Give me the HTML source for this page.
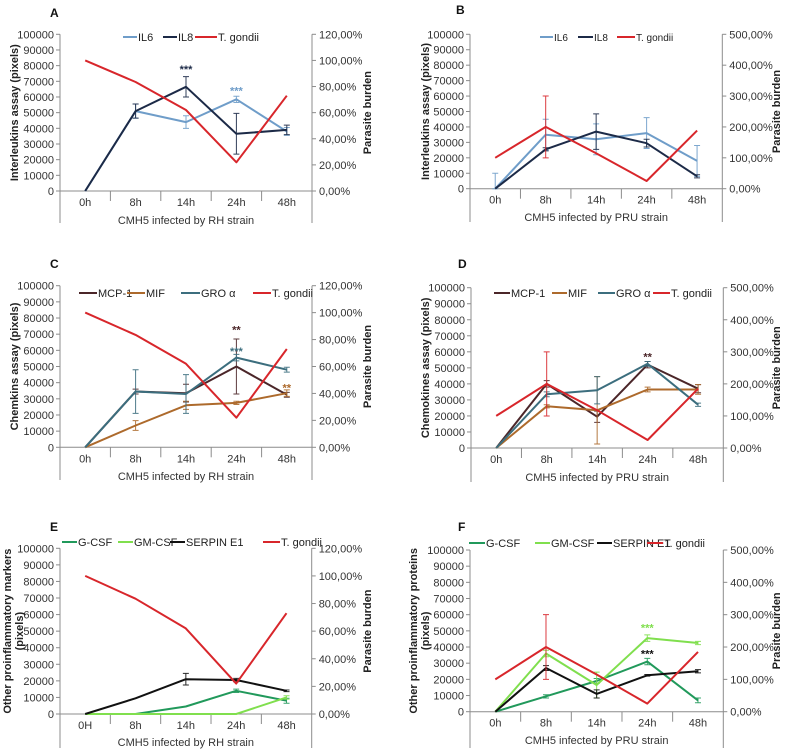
<!DOCTYPE html>
<html><head><meta charset="utf-8">
<style>
html,body{margin:0;padding:0;background:#fff;}
svg{display:block;font-family:"Liberation Sans",Arial,sans-serif;}
</style></head>
<body>
<svg id="fig" width="787" height="753" viewBox="0 0 787 753" xmlns="http://www.w3.org/2000/svg"></svg>
<script>
// ---- data ----
const cats = ["0h","8h","14h","24h","48h"];
const catsE = ["0H","8h","14h","24h","48h"];
// Panel A (RH)
const aIL6 = [0, 51000, 44000, 58500, 38000];
const aIL6Err = [0, 4500, 4000, 2000, 2500];
const aIL8 = [0, 51000, 66500, 36500, 39000];
const aIL8Err = [0, 4500, 6500, 13000, 3000];
const rhTg = [100, 83.5, 62, 22, 73];
// Panel B (PRU)
const bIL6 = [0, 35000, 32000, 36000, 18000];
const bIL6Err = [10000, 10000, 10000, 10000, 10000];
const bIL8 = [0, 25500, 37000, 29500, 8000];
const bIL8Err = [0, 1000, 11500, 2500, 1000];
const pruTg = [100, 200, 115, 25, 188];
const pruTgErr = [0, 100, 0, 0, 0];
// Panel C (RH)
const cMCP = [0, 34500, 33500, 50000, 32500];
const cMCPErr = [0, 1500, 5500, 17000, 1500];
const cMIF = [0, 13500, 26000, 27500, 33500];
const cMIFErr = [0, 3000, 2500, 1000, 2000];
const cGRO = [0, 34500, 33000, 55500, 48000];
const cGROErr = [0, 13500, 12000, 2000, 1500];
// Panel D (PRU)
const dMCP = [0, 40000, 19500, 52000, 37000];
const dMCPErr = [0, 2000, 3500, 2000, 2500];
const dMIF = [0, 26000, 23500, 36500, 36500];
const dMIFErr = [0, 1000, 21000, 1500, 3000];
const dGRO = [0, 33500, 36000, 52500, 27000];
const dGROErr = [0, 1500, 8500, 1500, 1000];
const dTg = [100, 200, 118, 25, 185];
// Panel E (RH)
const eGCSF = [0, 0, 4500, 14000, 8000];
const eGCSFErr = [0, 0, 0, 1000, 1500];
const eGMCSF = [0, 0, 0, 0, 10000];
const eGMCSFErr = [0, 0, 0, 0, 1000];
const eSERP = [0, 9500, 21000, 20500, 14000];
const eSERPErr = [0, 0, 3500, 1000, 500];
// Panel F (PRU)
const fGCSF = [0, 9500, 19000, 31000, 7000];
const fGCSFErr = [0, 1000, 1500, 2000, 1500];
const fGMCSF = [0, 36000, 16500, 45500, 42500];
const fGMCSFErr = [0, 2000, 8000, 2000, 1000];
const fSERP = [0, 27000, 11000, 22500, 25000];
const fSERPErr = [0, 1500, 2500, 500, 1000];
const fTg = [100, 200, 115, 25, 185];
const leftTicks = [0,10000,20000,30000,40000,50000,60000,70000,80000,90000,100000];
const rhPctTicks = [0,20,40,60,80,100,120];
const pruPctTicks = [0,100,200,300,400,500];

const C = {il6:"#6f9dc9", il8:"#1c2a47", red:"#d8262b", mcp:"#4b2629", mif:"#ad6a2c", gro:"#3c6e7e", gcsf:"#21995b", gmcsf:"#80df4e", serp:"#111111"};
const NS = "http://www.w3.org/2000/svg";
const fig = document.getElementById("fig");
function el(tag, attrs, parent, text){
  const e = document.createElementNS(NS, tag);
  for (const k in attrs) e.setAttribute(k, attrs[k]);
  if (text !== undefined) e.textContent = text;
  (parent || fig).appendChild(e);
  return e;
}
function pctFmt(v){ return v.toFixed(2).replace(".", ",") + "%"; }

const panels = [
 {id:"a", letter:"A", lx:50, ly:17, x0:60, x1:312, yTop:34.3, y0:191, yBot:223, pmax:120, pticks:rhPctTicks, cats:cats,
  ytitle:[14], yt:["Interleukins assay (pixels)"], rtitle:"Parasite burden", rtx:367, xtitle:"CMH5 infected by  RH strain", xty:224, legY:37, legFont:11,
  series:[{name:"IL6",color:C.il6,v:aIL6,e:aIL6Err,lx:123,lw:14},{name:"IL8",color:C.il8,v:aIL8,e:aIL8Err,lx:163,lw:14},{name:"T. gondii",color:C.red,v:rhTg,pct:true,lx:195,lw:22}],
  stars:[{i:2,v:78000,t:"***",c:C.il8},{i:3,v:64000,t:"***",c:C.il6}]},
 {id:"b", letter:"B", lx:456, ly:14, x0:470, x1:722.3, yTop:34.3, y0:188.7, yBot:222, pmax:500, pticks:pruPctTicks, cats:cats,
  ytitle:[425], yt:["Interleukins assay (pixels)"], rtitle:"Parasite burden", rtx:776, xtitle:"CMH5 infected by PRU strain", xty:221, legY:37, legFont:10,
  series:[{name:"IL6",color:C.il6,v:bIL6,e:bIL6Err,lx:540,lw:13},{name:"IL8",color:C.il8,v:bIL8,e:bIL8Err,lx:578,lw:15},{name:"T. gondii",color:C.red,v:pruTg,e:pruTgErr,pct:true,lx:617,lw:18}],
  stars:[]},
 {id:"c", letter:"C", lx:50, ly:268, x0:60, x1:312, yTop:285.7, y0:447.3, yBot:480, pmax:120, pticks:rhPctTicks, cats:cats,
  ytitle:[14], yt:["Chemkins assay (pixels)"], rtitle:"Parasite burden", rtx:367, xtitle:"CMH5 infected by  RH strain", xty:480, legY:293, legFont:11,
  series:[{name:"MCP-1",color:C.mcp,v:cMCP,e:cMCPErr,lx:79,lw:18},{name:"MIF",color:C.mif,v:cMIF,e:cMIFErr,lx:127,lw:18},{name:"GRO α",color:C.gro,v:cGRO,e:cGROErr,lx:181,lw:19},{name:"T. gondii",color:C.red,v:rhTg,pct:true,lx:253,lw:18}],
  stars:[{i:3,v:73000,t:"**",c:C.mcp},{i:3,v:59500,t:"***",c:C.gro},{i:4,v:37000,t:"**",c:C.mif}]},
 {id:"d", letter:"D", lx:458, ly:268, x0:471, x1:723.3, yTop:287.7, y0:448, yBot:482, pmax:500, pticks:pruPctTicks, cats:cats,
  ytitle:[425], yt:["Chemokines assay (pixels)"], rtitle:"Parasite burden", rtx:776, xtitle:"CMH5 infected by PRU strain", xty:481, legY:293, legFont:11,
  series:[{name:"MCP-1",color:C.mcp,v:dMCP,e:dMCPErr,lx:494,lw:16},{name:"MIF",color:C.mif,v:dMIF,e:dMIFErr,lx:552,lw:15},{name:"GRO α",color:C.gro,v:dGRO,e:dGROErr,lx:598,lw:17},{name:"T. gondii",color:C.red,v:dTg,e:pruTgErr,pct:true,lx:653,lw:17}],
  stars:[{i:3,v:57000,t:"**",c:C.mcp}]},
 {id:"e", letter:"E", lx:50, ly:531, x0:60, x1:311.7, yTop:548.3, y0:714, yBot:748, pmax:120, pticks:rhPctTicks, cats:catsE,
  ytitle:[7,19], yt:["Other proinflammatory markers","(pixels)"], rtitle:"Parasite burden", rtx:367, xtitle:"CMH5 infected by  RH strain", xty:746, legY:542, legFont:11,
  series:[{name:"G-CSF",color:C.gcsf,v:eGCSF,e:eGCSFErr,lx:62,lw:15},{name:"GM-CSF",color:C.gmcsf,v:eGMCSF,e:eGMCSFErr,lx:118,lw:15},{name:"SERPIN E1",color:C.serp,v:eSERP,e:eSERPErr,lx:170,lw:15},{name:"T. gondii",color:C.red,v:rhTg,pct:true,lx:263,lw:17}],
  stars:[]},
 {id:"f", letter:"F", lx:458, ly:531, x0:470, x1:723.3, yTop:550, y0:711.7, yBot:748, pmax:500, pticks:pruPctTicks, cats:cats,
  ytitle:[413,425], yt:["Other proinflammatory proteins","(pixels)"], rtitle:"Prasite burden", rtx:776, xtitle:"CMH5 infected by PRU strain", xty:744, legY:543, legFont:11,
  series:[{name:"G-CSF",color:C.gcsf,v:fGCSF,e:fGCSFErr,lx:469,lw:16},{name:"GM-CSF",color:C.gmcsf,v:fGMCSF,e:fGMCSFErr,lx:535,lw:15},{name:"SERPIN E1",color:C.serp,v:fSERP,e:fSERPErr,lx:597,lw:15},{name:"T. gondii",color:C.red,v:fTg,e:pruTgErr,pct:true,lx:647,lw:16}],
  stars:[{i:3,v:52000,t:"***",c:C.gmcsf},{i:3,v:36000,t:"***",c:C.serp}]}
];

function vtext(parent, cx, cy, str){
  return el("text", {x:0, y:0, "font-size":11, "font-weight":"bold", "text-anchor":"middle", fill:"#222", transform:`translate(${cx + 4} ${cy}) rotate(-90)`}, parent, str);
}

panels.forEach(p => {
  const g = el("g", {});
  
  
  const n = p.cats.length, cw = (p.x1 - p.x0) / n;
  const xs = i => p.x0 + (i + 0.5) * cw;
  const yL = v => p.y0 - (v / 100000) * (p.y0 - p.yTop);
  const yR = v => p.y0 - (v / p.pmax) * (p.y0 - p.yTop);
  const axis = "#8c8c8c";
  const lt = el("text", {x:p.lx, y:p.ly, "font-size":12, "font-weight":"bold", fill:"#111"}, g, p.letter);
  
  
  const ax = el("g", {stroke:axis, "stroke-width":1}, g);
  
  
  el("line", {x1:p.x0, y1:p.yTop, x2:p.x0, y2:p.yBot}, ax);
  el("line", {x1:p.x1, y1:p.yTop, x2:p.x1, y2:p.yBot}, ax);
  el("line", {x1:p.x0, y1:p.y0, x2:p.x1, y2:p.y0}, ax);
  for (let i = 1; i < n; i++) el("line", {x1:p.x0 + i*cw, y1:p.y0, x2:p.x0 + i*cw, y2:p.y0 + 10}, ax);
  leftTicks.forEach(t => {
    const y = yL(t);
    el("line", {x1:p.x0 - 4, y1:y, x2:p.x0, y2:y}, ax);
    const tx = el("text", {x:p.x0 - 6, y:y + 4, "font-size":11, "text-anchor":"end", fill:"#333", stroke:"none"}, g, String(t));
    
    
  });
  p.pticks.forEach(t => {
    const y = yR(t);
    el("line", {x1:p.x1, y1:y, x2:p.x1 + 4, y2:y}, ax);
    const tx = el("text", {x:p.x1 + 7, y:y + 4, "font-size":11, fill:"#333"}, g, pctFmt(t));
    
    
  });
  p.cats.forEach((c, i) => {
    const tx = el("text", {x:xs(i), y:p.y0 + 15, "font-size":11, "text-anchor":"middle", fill:"#333"}, g, c);
    
    
  });
  const xt = el("text", {x:(p.x0 + p.x1)/2, y:p.xty, "font-size":11, "text-anchor":"middle", fill:"#333"}, g, p.xtitle);
  
  
  const midY = (p.yTop + p.y0) / 2;
  p.yt.forEach((t, k) => {
    const tx = vtext(g, p.ytitle[k], midY, t);
    
    
  });
  const rt = vtext(g, p.rtx, midY, p.rtitle);
  
  
  p.series.forEach(s => {
    const sg = el("g", {}, g);
    
    
    const yf = s.pct ? yR : yL;
    const pts = s.v.map((v, i) => xs(i).toFixed(1) + "," + yf(v).toFixed(1)).join(" ");
    const pl = el("polyline", {points:pts, fill:"none", stroke:s.color, "stroke-width":2, "stroke-linejoin":"round"}, sg);
    
    
    if (s.e) s.e.forEach((e, i) => {
      if (!e) return;
      const x = xs(i), yt = yf(s.v[i] + e), yb = yf(Math.max(0, s.v[i] - e));
      const eb = el("path", {d:`M${x},${yt}V${yb}M${x-3},${yt}H${x+3}M${x-3},${yb}H${x+3}`, stroke:s.color, "stroke-width":1, fill:"none", opacity:0.9}, sg);
      
      
    });
    const lw = s.lw || 15;
    const lg = el("g", {}, g);
    
    
    el("line", {x1:s.lx, y1:p.legY, x2:s.lx + lw, y2:p.legY, stroke:s.color, "stroke-width":2}, lg);
    el("text", {x:s.lx + lw + 1, y:p.legY + 4, "font-size":p.legFont, fill:"#222"}, lg, s.name);
  });
  p.stars.forEach(st => {
    const tx = el("text", {x:xs(st.i), y:yL(st.v) + 4, "font-size":11, "font-weight":"bold", "text-anchor":"middle", fill:st.c}, g, st.t);
    
    
  });
});
</script>
</body></html>
